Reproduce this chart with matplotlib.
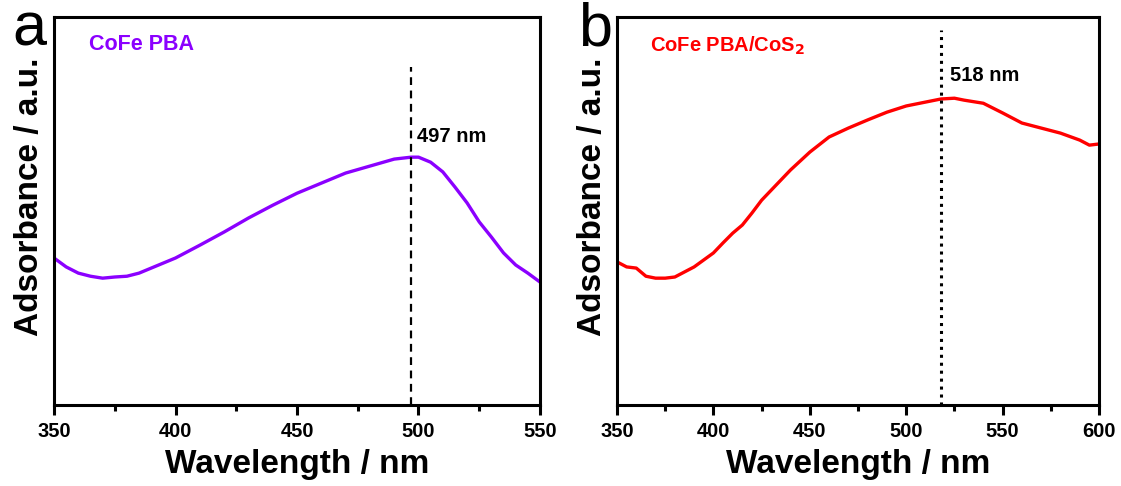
import numpy as np
import matplotlib
matplotlib.use("Agg")
import matplotlib.pyplot as plt
from matplotlib.ticker import MultipleLocator

plt.rcParams["font.family"] = ["Liberation Sans", "DejaVu Sans"]
plt.rcParams["font.weight"] = "bold"
plt.rcParams["mathtext.default"] = "bf"

# ---------- data (arbitrary units) ----------
wl_a = [350, 355, 360, 365, 370, 375, 380, 385, 390, 395, 400, 410, 420, 430,
        440, 450, 460, 470, 480, 490, 497, 500, 505, 510, 515, 520, 525, 530,
        535, 540, 545, 550]
abs_a = [0.379, 0.356, 0.340, 0.332, 0.327, 0.330, 0.332, 0.340, 0.353, 0.366,
         0.379, 0.412, 0.446, 0.482, 0.515, 0.546, 0.572, 0.598, 0.616, 0.634,
         0.639, 0.639, 0.626, 0.601, 0.562, 0.521, 0.472, 0.433, 0.392, 0.361,
         0.340, 0.317]

wl_b = [350, 355, 360, 365, 370, 375, 380, 385, 390, 395, 400, 405, 410, 415,
        420, 425, 430, 440, 450, 460, 470, 480, 490, 500, 510, 518, 525, 530,
        540, 550, 560, 570, 580, 590, 595, 600]
abs_b = [0.369, 0.356, 0.353, 0.332, 0.327, 0.327, 0.330, 0.343, 0.356, 0.374,
         0.392, 0.418, 0.443, 0.464, 0.495, 0.528, 0.554, 0.606, 0.652, 0.691,
         0.714, 0.735, 0.755, 0.771, 0.781, 0.789, 0.791, 0.786, 0.778, 0.753,
         0.727, 0.714, 0.701, 0.683, 0.670, 0.673]

peak_a, peak_b = 497, 518
labels = ["CoFe PBA", r"CoFe PBA/CoS$_{2}$"]
colors = ["#8B00FF", "#FF0000"]

# ---------- figure ----------
fig = plt.figure(figsize=(11.21, 4.86), dpi=100)
ax_a = fig.add_axes([0.0482, 0.1667, 0.4335, 0.798])
ax_b = fig.add_axes([0.5504, 0.1667, 0.4300, 0.798])

def style(ax, xmax):
    ax.set_xlim(350, xmax)
    ax.set_ylim(0, 1)
    ax.set_yticks([])
    ax.xaxis.set_major_locator(MultipleLocator(50))
    ax.xaxis.set_minor_locator(MultipleLocator(25))
    ax.tick_params(axis="x", which="major", direction="out", length=7, width=2.2,
                   labelsize=14.5, pad=5)
    ax.tick_params(axis="x", which="minor", direction="out", length=4, width=2.2)
    for sp in ax.spines.values():
        sp.set_linewidth(2.2)
    ax.set_xlabel("Wavelength / nm", fontsize=24, fontweight="bold", labelpad=6)
    ax.set_ylabel("Adsorbance / a.u.", fontsize=24, fontweight="bold")
    ax.yaxis.set_label_coords(-0.018, 0.536)

# panel a
ax_a.plot(wl_a, abs_a, color=colors[0], lw=2.4)
ax_a.plot([peak_a, peak_a], [0, 0.871], color="black", ls=(0, (3.5, 2.5)), lw=1.6)
ax_a.text(499.5, 0.678, f"{peak_a} nm", fontsize=14.5, fontweight="bold")
ax_a.text(364.5, 0.915, labels[0], fontsize=15.5, fontweight="bold", color=colors[0])
style(ax_a, 550)

# panel b
ax_b.plot(wl_b, abs_b, color=colors[1], lw=2.4)
ax_b.plot([peak_b, peak_b], [0, 0.966], color="black", ls=(0, (1, 1.6)), lw=2.2)
ax_b.text(522.5, 0.835, f"{peak_b} nm", fontsize=14.5, fontweight="bold")
ax_b.text(367, 0.91, labels[1], fontsize=14.5, fontweight="bold", color=colors[1])
style(ax_b, 600)

fig.text(12 / 1121, 1 - 46 / 486, "a", fontsize=44, fontweight="normal")
fig.text(578 / 1121, 1 - 46 / 486, "b", fontsize=44, fontweight="normal")

fig.savefig("out.png", dpi=100)
